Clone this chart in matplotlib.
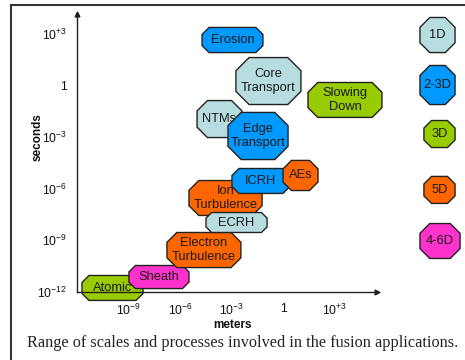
import matplotlib
matplotlib.use("Agg")
import matplotlib.pyplot as plt
from matplotlib.patches import Polygon
from matplotlib.lines import Line2D
import numpy as np

plt.rcParams['font.family'] = ['Liberation Sans', 'DejaVu Sans']
plt.rcParams['mathtext.fontset'] = 'custom'
plt.rcParams['mathtext.rm'] = 'Liberation Sans'
plt.rcParams['mathtext.default'] = 'regular'

# dimension key -> colour
dims = ['1D', '2-3D', '3D', '5D', '4-6D']
dim_colors = ['#b7dde1', '#0099ff', '#99cc00', '#ff6600', '#ff33cc']

# processes, drawn in this order; ranges are log10(meters), log10(seconds)
names = ['Atomic', 'Sheath', 'Electron\nTurbulence', 'Ion\nTurbulence', 'ECRH',
         'ICRH', 'AEs', 'NTMs', 'Edge\nTransport', 'Core\nTransport',
         'Erosion', 'Slowing\nDown']
proc_dim = ['3D', '4-6D', '5D', '5D', '1D', '2-3D', '5D', '1D', '2-3D', '1D',
            '2-3D', '3D']
x_lo = [-11.71, -8.98, -6.77, -5.49, -4.50, -2.99, -0.02, -5.02, -3.22, -2.76, -4.73, 1.43]
x_hi = [-8.16, -5.49, -2.47, -1.24, -0.95, 0.38, 2.01, -2.41, 0.27, 1.02, -1.19, 5.73]
y_lo = [-12.49, -11.80, -10.58, -7.55, -8.54, -6.27, -6.10, -3.02, -4.30, -1.10, 1.92, -1.85]
y_hi = [-11.04, -10.46, -8.54, -5.52, -7.38, -4.82, -4.35, -0.87, -1.56, 1.63, 3.38, 0.18]

# key boxes at the right, same log units
key_x_lo = [7.94, 7.94, 8.17, 8.17, 7.94]
key_x_hi = [9.98, 9.98, 9.98, 9.98, 10.27]
key_y_lo = [1.92, -1.10, -3.60, -6.85, -10.05]
key_y_hi = [3.96, 1.17, -2.03, -5.28, -8.02]

xticks = [-9, -6, -3, 0, 3]
xticklabels = ['$10^{-9}$', '$10^{-6}$', '$10^{-3}$', '1', '$10^{+3}$']
yticks = [3, 0, -3, -6, -9, -12]
yticklabels = ['$10^{+3}$', '1', '$10^{-3}$', '$10^{-6}$', '$10^{-9}$', '$10^{-12}$']


def octagon(ax, x0, x1, y0, y1, color, z, label=None):
    c = 0.28 * min(x1 - x0, y1 - y0)
    lx = [x0 + c, x1 - c, x1, x1, x1 - c, x0 + c, x0, x0]
    ly = [y1, y1, y1 - c, y0 + c, y0, y0, y0 + c, y1 - c]
    pts = np.column_stack([10.0 ** np.array(lx), 10.0 ** np.array(ly)])
    ax.add_patch(Polygon(pts, closed=True, facecolor=color, edgecolor='#222222',
                         lw=1.0, zorder=z, clip_on=False))
    if label:
        ax.text(10 ** ((x0 + x1) / 2), 10 ** ((y0 + y1) / 2), label, ha='center',
                va='center', fontsize=9.3, linespacing=1.15, color='#1a1a1a',
                zorder=z + 0.5, clip_on=False)


W, H = 465, 360
fig = plt.figure(figsize=(W / 100, H / 100), dpi=100)
ax_l, ax_b, ax_r, ax_t = 77, 292, 377, 14
ax = fig.add_axes([ax_l / W, 1 - ax_b / H, (ax_r - ax_l) / W, (ax_b - ax_t) / H])
ax.set_xscale('log')
ax.set_yscale('log')
ax.set_xlim(1e-12, 10 ** ((ax_r - ax_l) / 17.2 - 12))
ax.set_ylim(1e-12, 10 ** ((ax_b - ax_t) / 17.2 - 12))
ax.patch.set_alpha(0)
for s in ['top', 'right']:
    ax.spines[s].set_visible(False)
for s in ['left', 'bottom']:
    ax.spines[s].set_color('#222222')
    ax.spines[s].set_linewidth(1.0)
    ax.spines[s].set_zorder(1.5)
ax.plot(1, 0, '>', color='#222222', ms=3.5, transform=ax.transAxes, clip_on=False)
ax.plot(0, 1, '^', color='#222222', ms=3.5, transform=ax.transAxes, clip_on=False)

ax.set_xticks([10.0 ** t for t in xticks])
ax.set_xticklabels(xticklabels)
ax.set_yticks([10.0 ** t for t in yticks])
ax.set_yticklabels(yticklabels)
ax.minorticks_off()
ax.tick_params(length=0, labelsize=8.8, colors='#111111')
ax.tick_params(axis='x', pad=8)
ax.tick_params(axis='y', pad=7)

for i, n in enumerate(names):
    col = dim_colors[dims.index(proc_dim[i])]
    z = 1 if i == 0 else 2 + i
    octagon(ax, x_lo[i], x_hi[i], y_lo[i], y_hi[i], col, z, n)

for i, d in enumerate(dims):
    octagon(ax, key_x_lo[i], key_x_hi[i], key_y_lo[i], key_y_hi[i], dim_colors[i], 20, d)

fig.text(232 / W, 1 - 325 / H, 'meters', ha='center', va='center', fontsize=8.5,
         fontweight='bold', color='#111111')
fig.text(38 / W, 1 - 137 / H, 'seconds', ha='center', va='center', fontsize=8.5,
         fontweight='bold', rotation=90, color='#111111')

fig.add_artist(Line2D([11 / W, 1], [1 - 5 / H, 1 - 5 / H], color='#333333', lw=1.5))
fig.add_artist(Line2D([11 / W, 11 / W], [0, 1 - 5 / H], color='#333333', lw=1.5))

fig.text(27 / W, 1 - 343 / H,
         'Range of scales and processes involved in the fusion applications.',
         ha='left', va='center', fontsize=11.7, family='Liberation Serif', color='#222222')

fig.savefig('out.png', dpi=100)
